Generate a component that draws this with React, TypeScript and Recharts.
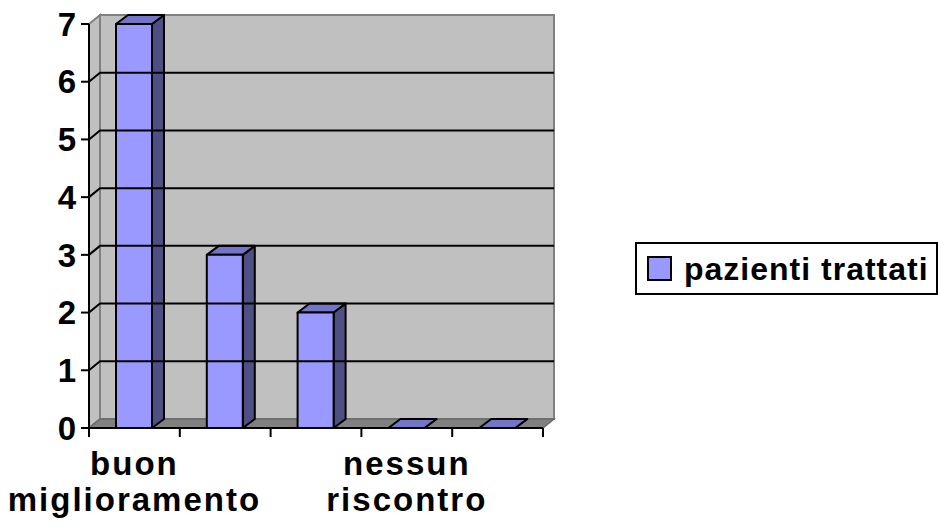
import React from 'react';
import {
  BarChart,
  Bar,
  XAxis,
  YAxis,
  ReferenceArea,
  ReferenceLine,
  Legend
} from 'recharts';

// categorie (Excel mostra solo la 1a e la 4a etichetta)
const CATEGORIES = [
  'buon miglioramento',
  'discreto miglioramento',
  'lieve miglioramento',
  'nessun riscontro',
  'peggioramento'
];
const PATIENTS = [7, 3, 2, 0, 0];
const Y_TICKS = [0, 1, 2, 3, 4, 5, 6, 7];
const GRID_VALUES = [1, 2, 3, 4, 5, 6];
const LABELED = [0, 3];

const data = CATEGORIES.map((name, i) => ({ name, patients: PATIENTS[i] }));

const FONT = "'Liberation Sans', Arial, sans-serif";
const DEPTH_X = 11;
const DEPTH_Y = -9;

// pareti e pavimento in finto 3D
const Walls = (props: any) => {
  const { x, y, width, height } = props;
  const b = y + height;
  return (
    <g>
      <rect
        x={x + DEPTH_X}
        y={y + DEPTH_Y}
        width={width}
        height={height}
        fill="#C0C0C0"
        stroke="#808080"
        strokeWidth={2}
      />
      <polygon
        points={`${x},${y} ${x + DEPTH_X},${y + DEPTH_Y} ${x + DEPTH_X},${b + DEPTH_Y} ${x},${b}`}
        fill="#C0C0C0"
        stroke="#808080"
        strokeWidth={2}
      />
      <polygon
        points={`${x},${b} ${x + DEPTH_X},${b + DEPTH_Y} ${x + width + DEPTH_X},${b + DEPTH_Y} ${x + width},${b}`}
        fill="#808080"
        stroke="#6a6a6a"
        strokeWidth={1.5}
      />
    </g>
  );
};

// linea della griglia che corre sulla parete sinistra e su quella di fondo
const GridLine3D = (props: any) => {
  const { x1, y1, x2, y2 } = props;
  return (
    <polyline
      points={`${x1},${y1} ${x1 + DEPTH_X},${y1 + DEPTH_Y} ${x2 + DEPTH_X},${y2 + DEPTH_Y}`}
      fill="none"
      stroke="#000"
      strokeWidth={2}
    />
  );
};

const Bar3D = (props: any) => {
  const { x, y, width, height } = props;
  const dx = 12;
  const dy = -9;
  const r = x + width;
  const b = y + height;
  return (
    <g stroke="#000" strokeWidth={2} strokeLinejoin="round">
      <polygon points={`${r},${y} ${r + dx},${y + dy} ${r + dx},${b + dy} ${r},${b}`} fill="#4F4F84" />
      <polygon points={`${x},${y} ${x + dx},${y + dy} ${r + dx},${y + dy} ${r},${y}`} fill="#7575C8" />
      {height > 0 && <rect x={x} y={y} width={width} height={height} fill="#9999FF" />}
    </g>
  );
};

// tacche ai bordi delle categorie + etichette (solo alcune, come Excel)
const CategoryTick = (props: any) => {
  const { x, y, payload, index, visibleTicksCount, width } = props;
  const half = payload.offset ? payload.offset : width / visibleTicksCount / 2;
  const words = String(payload.value).split(' ');
  return (
    <g>
      <line x1={x - half} y1={y} x2={x - half} y2={y + 9} stroke="#000" strokeWidth={2} />
      {index === visibleTicksCount - 1 && (
        <line x1={x + half} y1={y} x2={x + half} y2={y + 9} stroke="#000" strokeWidth={2} />
      )}
      {LABELED.includes(index) && (
        <text
          textAnchor="middle"
          fontFamily={FONT}
          fontWeight="bold"
          fontSize={33}
          letterSpacing={2}
          fill="#000"
        >
          {words.map((w, i) => (
            <tspan key={i} x={x} y={y + 47 + i * 36}>
              {w}
            </tspan>
          ))}
        </text>
      )}
    </g>
  );
};

const LegendBox = (props: any) => {
  const { payload } = props;
  return (
    <div
      style={{
        boxSizing: 'border-box',
        width: 303,
        height: 53,
        border: '2px solid #000',
        background: '#fff',
        display: 'flex',
        alignItems: 'center',
        paddingLeft: 10
      }}
    >
      {(payload || []).map((entry: any) => (
        <div key={entry.value} style={{ display: 'flex', alignItems: 'center' }}>
          <div
            style={{
              boxSizing: 'border-box',
              width: 25,
              height: 25,
              border: '2px solid #000',
              background: '#9999FF',
              marginRight: 12
            }}
          />
          <span
            style={{
              fontFamily: FONT,
              fontWeight: 'bold',
              fontSize: 32,
              letterSpacing: 1,
              color: '#000',
              lineHeight: 1
            }}
          >
            {entry.value}
          </span>
        </div>
      ))}
    </div>
  );
};

export default function App() {
  return (
    <div style={{ position: 'absolute', left: 0, top: 0, width: 938, height: 531, background: '#fff' }}>
      <BarChart
        width={938}
        height={531}
        data={data}
        margin={{ top: 24, right: 395, bottom: 0, left: 0 }}
        barSize={36}
      >
        <XAxis
          dataKey="name"
          height={103}
          interval={0}
          axisLine={{ stroke: '#000', strokeWidth: 2 }}
          tickLine={false}
          tickSize={0}
          tickMargin={0}
          tick={<CategoryTick />}
        />
        <YAxis
          type="number"
          domain={[0, 7]}
          ticks={Y_TICKS}
          width={89}
          tickSize={8}
          tickMargin={5}
          axisLine={{ stroke: '#000', strokeWidth: 2 }}
          tickLine={{ stroke: '#000', strokeWidth: 2 }}
          tick={{ fontFamily: FONT, fontWeight: 'bold', fontSize: 33, fill: '#000' }}
        />
        <ReferenceArea y1={0} y2={7} shape={<Walls />} ifOverflow="visible" />
        {GRID_VALUES.map((v) => (
          <ReferenceLine key={v} y={v} shape={<GridLine3D />} />
        ))}
        <Legend
          layout="horizontal"
          verticalAlign="middle"
          align="center"
          wrapperStyle={{ left: 635, top: 242, width: 303, height: 53 }}
          content={<LegendBox />}
        />
        <Bar
          dataKey="patients"
          name="pazienti trattati"
          fill="#9999FF"
          shape={<Bar3D />}
          isAnimationActive={false}
        />
      </BarChart>
    </div>
  );
}
